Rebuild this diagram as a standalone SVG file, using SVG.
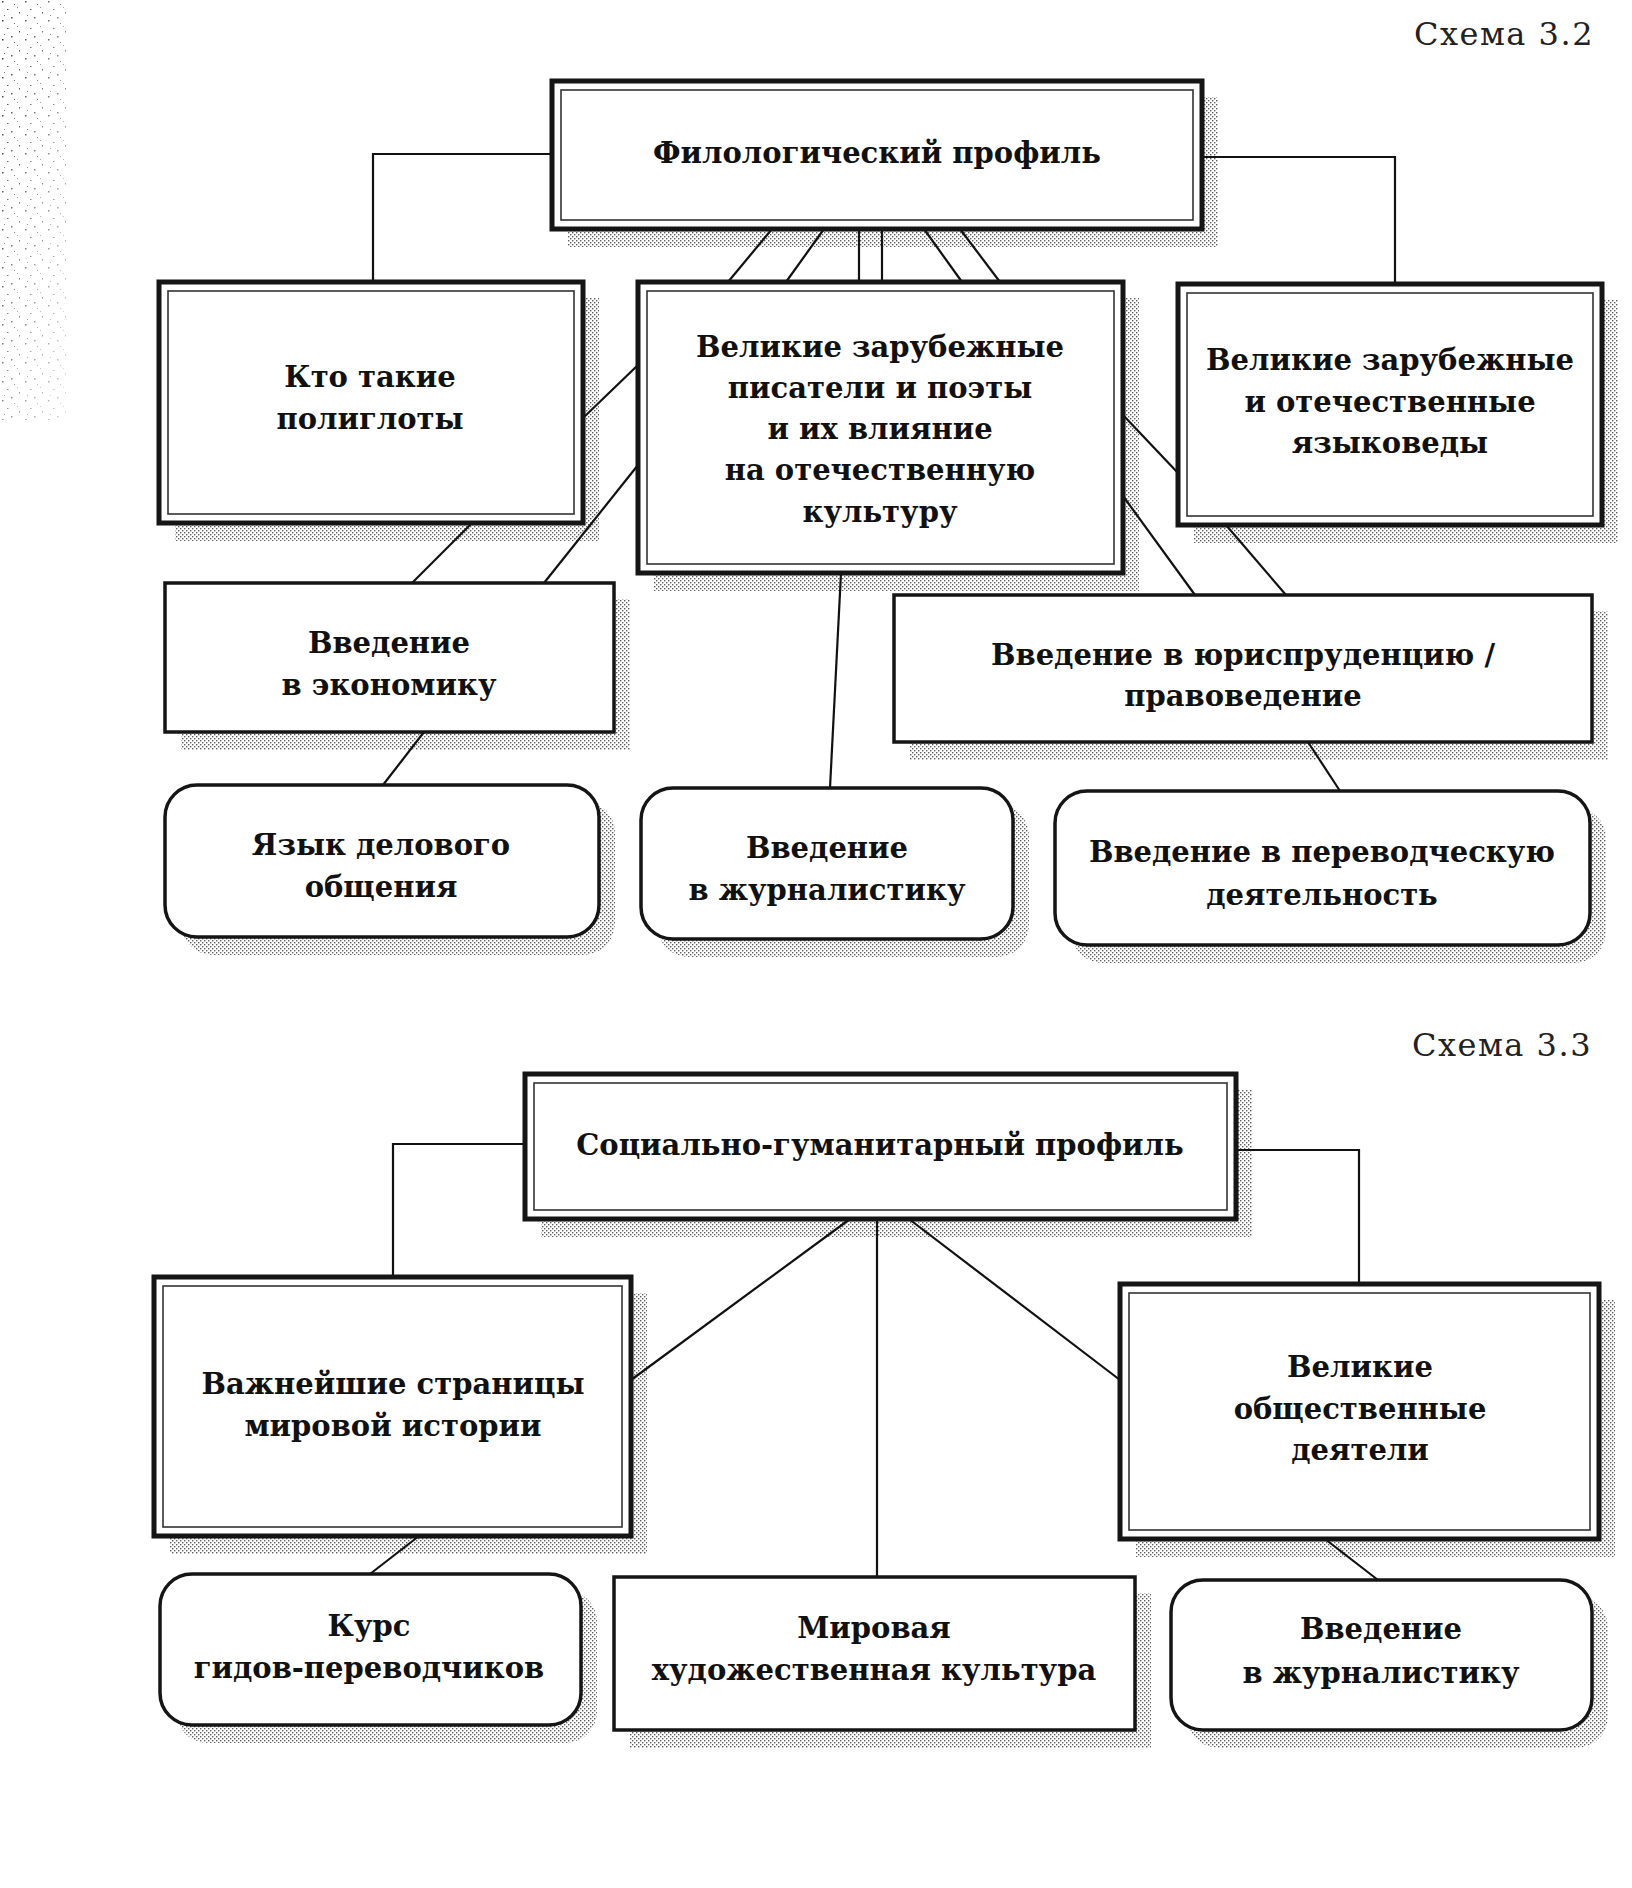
<svg xmlns="http://www.w3.org/2000/svg" width="1632" height="1888" viewBox="0 0 1632 1888">
<defs>
<pattern id="dots" width="4" height="4" patternUnits="userSpaceOnUse">
<rect x="0" y="0" width="1.4" height="1.4" fill="#1a1a1a"/>
<rect x="2" y="2" width="1.4" height="1.4" fill="#1a1a1a"/>
</pattern>
<pattern id="noise" width="23" height="19" patternUnits="userSpaceOnUse">
<rect x="2" y="1" width="1.5" height="1.5" fill="#333"/>
<rect x="14" y="4" width="1" height="1" fill="#555"/>
<rect x="7" y="9" width="1.5" height="1" fill="#444"/>
<rect x="19" y="12" width="1" height="1.5" fill="#333"/>
<rect x="4" y="15" width="1" height="1" fill="#666"/>
<rect x="11" y="17" width="1.5" height="1.5" fill="#444"/>
<rect x="17" y="7" width="1" height="1" fill="#777"/>
</pattern>
<linearGradient id="fade" x1="0" y1="0" x2="1" y2="1">
<stop offset="0" stop-color="#fff" stop-opacity="1"/>
<stop offset="1" stop-color="#fff" stop-opacity="0.2"/>
</linearGradient>
<mask id="fm"><rect x="0" y="0" width="70" height="420" fill="url(#fade)"/></mask>
</defs>
<style>
.sh{fill:url(#dots);opacity:0.7;stroke:none}
.ob{fill:#fff;stroke:#151515;stroke-width:5}
.ib{fill:none;stroke:#333;stroke-width:1.6}
.sb{fill:#fff;stroke:#151515;stroke-width:3.5}
.rb{fill:#fff;stroke:#151515;stroke-width:3.5}
.t{font-family:"DejaVu Serif","Liberation Serif",serif;font-weight:bold;font-size:29px;fill:#111;text-anchor:middle}
.cap{font-family:"DejaVu Serif","Liberation Serif",serif;font-size:32px;fill:#222;text-anchor:end;letter-spacing:1.5px}
.c{fill:none;stroke:#111;stroke-width:2.2}
</style>
<rect width="1632" height="1888" fill="#fff"/>
<rect x="0" y="0" width="70" height="420" fill="url(#noise)" mask="url(#fm)"/>

<text class="cap" x="1594" y="45">Схема 3.2</text>
<text class="cap" x="1592" y="1056">Схема 3.3</text>

<g id="connectors">
<polyline class="c" points="552,154 373,154 373,282"/>
<polyline class="c" points="1202,157 1395,157 1395,284"/>
<line class="c" x1="772" y1="229" x2="728" y2="282"/>
<line class="c" x1="824" y1="229" x2="786" y2="282"/>
<line class="c" x1="859" y1="229" x2="859" y2="282"/>
<line class="c" x1="882" y1="229" x2="882" y2="282"/>
<line class="c" x1="924" y1="229" x2="962" y2="282"/>
<line class="c" x1="960" y1="229" x2="1000" y2="282"/>
<line class="c" x1="638" y1="365" x2="583" y2="418"/>
<line class="c" x1="638" y1="465" x2="544" y2="583"/>
<line class="c" x1="472" y1="523" x2="412" y2="583"/>
<line class="c" x1="1123" y1="415" x2="1178" y2="473"/>
<line class="c" x1="1123" y1="496" x2="1195" y2="595"/>
<line class="c" x1="1226" y1="525" x2="1286" y2="595"/>
<line class="c" x1="841" y1="573" x2="830" y2="788"/>
<line class="c" x1="424" y1="732" x2="383" y2="785"/>
<line class="c" x1="1308" y1="742" x2="1340" y2="791"/>

<polyline class="c" points="525,1144 393,1144 393,1277"/>
<polyline class="c" points="1236,1150 1359,1150 1359,1284"/>
<line class="c" x1="850" y1="1219" x2="631" y2="1380"/>
<line class="c" x1="877" y1="1219" x2="877" y2="1577"/>
<line class="c" x1="909" y1="1219" x2="1120" y2="1380"/>
<line class="c" x1="419" y1="1536" x2="370" y2="1574"/>
<line class="c" x1="1325" y1="1539" x2="1378" y2="1580"/>
</g>

<g id="n-filolog">
<rect class="sh" x="568" y="97" width="650" height="150"/>
<rect class="ob" x="552" y="81" width="650" height="148"/>
<rect class="ib" x="561" y="90" width="632" height="130"/>
<text class="t" x="877" y="163">Филологический профиль</text>
</g>

<g id="n-poliglot">
<rect class="sh" x="175" y="298" width="424" height="243"/>
<rect class="ob" x="159" y="282" width="424" height="241"/>
<rect class="ib" x="168" y="291" width="406" height="223"/>
<text class="t" x="370" y="387">Кто такие</text>
<text class="t" x="370" y="429">полиглоты</text>
</g>

<g id="n-writers">
<rect class="sh" x="654" y="298" width="485" height="293"/>
<rect class="ob" x="638" y="282" width="485" height="291"/>
<rect class="ib" x="647" y="291" width="467" height="273"/>
<text class="t" x="880" y="357">Великие зарубежные</text>
<text class="t" x="880" y="398">писатели и поэты</text>
<text class="t" x="880" y="439">и их влияние</text>
<text class="t" x="880" y="480">на отечественную</text>
<text class="t" x="880" y="522">культуру</text>
</g>

<g id="n-linguists">
<rect class="sh" x="1194" y="300" width="424" height="243"/>
<rect class="ob" x="1178" y="284" width="424" height="241"/>
<rect class="ib" x="1187" y="293" width="406" height="223"/>
<text class="t" x="1390" y="370">Великие зарубежные</text>
<text class="t" x="1390" y="412">и отечественные</text>
<text class="t" x="1390" y="453">языковеды</text>
</g>

<g id="n-econ">
<rect class="sh" x="181" y="599" width="449" height="151"/>
<rect class="sb" x="165" y="583" width="449" height="149"/>
<text class="t" x="389" y="653">Введение</text>
<text class="t" x="389" y="695">в экономику</text>
</g>

<g id="n-jur">
<rect class="sh" x="910" y="611" width="698" height="149"/>
<rect class="sb" x="894" y="595" width="698" height="147"/>
<text class="t" x="1243" y="665">Введение в юриспруденцию /</text>
<text class="t" x="1243" y="706">правоведение</text>
</g>

<g id="n-business">
<rect class="sh" x="181" y="801" width="434" height="154" rx="32"/>
<rect class="rb" x="165" y="785" width="434" height="152" rx="32"/>
<text class="t" x="381" y="855">Язык делового</text>
<text class="t" x="381" y="897">общения</text>
</g>

<g id="n-journal1">
<rect class="sh" x="657" y="804" width="372" height="153" rx="32"/>
<rect class="rb" x="641" y="788" width="372" height="151" rx="32"/>
<text class="t" x="827" y="858">Введение</text>
<text class="t" x="827" y="900">в журналистику</text>
</g>

<g id="n-translate">
<rect class="sh" x="1071" y="807" width="535" height="156" rx="32"/>
<rect class="rb" x="1055" y="791" width="535" height="154" rx="32"/>
<text class="t" x="1322" y="862">Введение в переводческую</text>
<text class="t" x="1322" y="905">деятельность</text>
</g>

<g id="n-social">
<rect class="sh" x="541" y="1090" width="711" height="147"/>
<rect class="ob" x="525" y="1074" width="711" height="145"/>
<rect class="ib" x="534" y="1083" width="693" height="127"/>
<text class="t" x="880" y="1155">Социально-гуманитарный профиль</text>
</g>

<g id="n-history">
<rect class="sh" x="170" y="1293" width="477" height="261"/>
<rect class="ob" x="154" y="1277" width="477" height="259"/>
<rect class="ib" x="163" y="1286" width="459" height="241"/>
<text class="t" x="393" y="1394">Важнейшие страницы</text>
<text class="t" x="393" y="1436">мировой истории</text>
</g>

<g id="n-public">
<rect class="sh" x="1136" y="1300" width="479" height="257"/>
<rect class="ob" x="1120" y="1284" width="479" height="255"/>
<rect class="ib" x="1129" y="1293" width="461" height="237"/>
<text class="t" x="1360" y="1377">Великие</text>
<text class="t" x="1360" y="1419">общественные</text>
<text class="t" x="1360" y="1460">деятели</text>
</g>

<g id="n-guides">
<rect class="sh" x="176" y="1590" width="421" height="153" rx="32"/>
<rect class="rb" x="160" y="1574" width="421" height="151" rx="32"/>
<text class="t" x="369" y="1636">Курс</text>
<text class="t" x="369" y="1678">гидов-переводчиков</text>
</g>

<g id="n-culture">
<rect class="sh" x="630" y="1593" width="521" height="155"/>
<rect class="sb" x="614" y="1577" width="521" height="153"/>
<text class="t" x="874" y="1638">Мировая</text>
<text class="t" x="874" y="1680">художественная культура</text>
</g>

<g id="n-journal2">
<rect class="sh" x="1187" y="1596" width="421" height="152" rx="32"/>
<rect class="rb" x="1171" y="1580" width="421" height="150" rx="32"/>
<text class="t" x="1381" y="1639">Введение</text>
<text class="t" x="1381" y="1683">в журналистику</text>
</g>
</svg>
